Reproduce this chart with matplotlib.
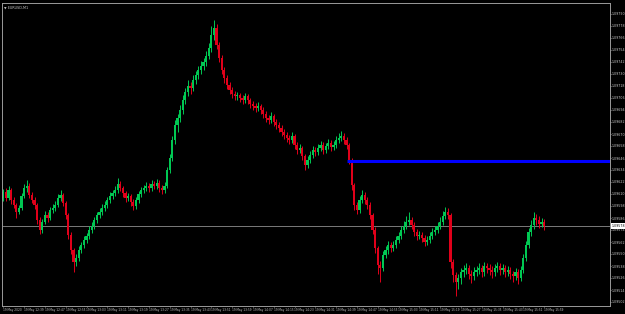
import matplotlib
matplotlib.use("Agg")
import matplotlib.pyplot as plt
import numpy as np

# EURUSD M1, 19 May 2020, prices stored as points above 1.09000
BASE = 1.09000
PT = 0.00001

opens = [606, 612, 606, 614, 604, 599, 592, 596, 608, 616,
         618, 609, 604, 599, 584, 574, 582, 589, 586, 594,
         596, 599, 606, 609, 601, 589, 569, 554, 542, 546,
         554, 559, 564, 568, 574, 578, 584, 589, 592, 596,
         599, 604, 608, 611, 614, 620, 616, 611, 606, 608,
         602, 598, 604, 610, 614, 616, 618, 616, 620, 618,
         621, 616, 614, 618, 634, 646, 664, 679, 686, 694,
         704, 712, 718, 716, 724, 729, 734, 738, 742, 748,
         756, 769, 776, 759, 746, 734, 726, 719, 714, 710,
         708, 709, 706, 704, 708, 704, 700, 698, 696, 698,
         694, 690, 686, 684, 688, 682, 679, 676, 672, 669,
         666, 664, 668, 659, 654, 656, 648, 639, 644, 649,
         654, 652, 656, 659, 654, 658, 661, 657, 659, 664,
         666, 668, 664, 659, 644, 619, 599, 594, 604, 609,
         604, 599, 589, 574, 556, 539, 536, 549, 554, 559,
         556, 559, 564, 568, 574, 578, 582, 584, 579, 572,
         568, 569, 566, 562, 564, 568, 572, 574, 578, 582,
         588, 592, 589, 542, 529, 522, 526, 532, 534, 536,
         530, 528, 532, 534, 536, 532, 538, 536, 534, 532,
         536, 538, 534, 536, 532, 534, 530, 528, 532, 526,
         534, 546, 559, 572, 579, 586, 584, 580, 582]
closes = [612, 606, 614, 604, 599, 592, 596, 608, 616, 618,
          609, 604, 599, 584, 574, 582, 589, 586, 594, 596,
          599, 606, 609, 601, 589, 569, 554, 542, 546, 554,
          559, 564, 568, 574, 578, 584, 589, 592, 596, 599,
          604, 608, 611, 614, 620, 616, 611, 606, 608, 602,
          598, 604, 610, 614, 616, 618, 616, 620, 618, 621,
          616, 614, 618, 634, 646, 664, 679, 686, 694, 704,
          712, 718, 716, 724, 729, 734, 738, 742, 748, 756,
          769, 776, 759, 746, 734, 726, 719, 714, 710, 708,
          709, 706, 704, 708, 704, 700, 698, 696, 698, 694,
          690, 686, 684, 688, 682, 679, 676, 672, 669, 666,
          664, 668, 659, 654, 656, 648, 639, 644, 649, 654,
          652, 656, 659, 654, 658, 661, 657, 659, 664, 666,
          668, 664, 659, 644, 619, 599, 594, 604, 609, 604,
          599, 589, 574, 556, 539, 536, 549, 554, 559, 556,
          559, 564, 568, 574, 578, 582, 584, 579, 572, 568,
          569, 566, 562, 564, 568, 572, 574, 578, 582, 588,
          592, 589, 542, 529, 522, 526, 532, 534, 536, 530,
          528, 532, 534, 536, 532, 538, 536, 534, 532, 536,
          538, 534, 536, 532, 534, 530, 528, 532, 526, 534,
          546, 559, 572, 579, 586, 584, 580, 582, 578]
highs = [615, 616, 618, 616, 607, 601, 599, 611, 620, 624,
         621, 612, 607, 601, 587, 585, 593, 592, 597, 600,
         603, 610, 614, 611, 603, 591, 572, 556, 550, 558,
         562, 568, 571, 578, 582, 587, 592, 596, 600, 603,
         607, 612, 614, 618, 626, 623, 618, 613, 611, 610,
         605, 607, 613, 617, 619, 622, 621, 624, 623, 625,
         624, 619, 622, 637, 650, 668, 684, 690, 699, 709,
         716, 724, 722, 729, 733, 738, 743, 746, 753, 761,
         778, 784, 780, 762, 749, 737, 729, 722, 717, 713,
         712, 711, 709, 711, 710, 706, 703, 701, 702, 700,
         697, 693, 689, 692, 690, 685, 682, 679, 675, 672,
         669, 672, 670, 662, 660, 658, 650, 648, 653, 658,
         657, 660, 663, 662, 661, 665, 664, 663, 668, 671,
         673, 671, 667, 661, 646, 621, 602, 608, 614, 612,
         607, 602, 591, 577, 558, 543, 553, 558, 563, 562,
         563, 568, 572, 578, 583, 588, 592, 587, 582, 575,
         573, 572, 569, 568, 572, 576, 578, 582, 587, 593,
         597, 596, 591, 545, 532, 530, 536, 539, 541, 539,
         534, 537, 538, 541, 539, 542, 541, 540, 538, 540,
         542, 541, 540, 539, 538, 537, 533, 536, 535, 538,
         550, 563, 576, 584, 592, 590, 588, 586, 585]
lows = [603, 603, 604, 600, 596, 586, 590, 594, 606, 612,
        606, 601, 595, 580, 570, 571, 580, 582, 584, 591,
        593, 597, 603, 598, 585, 565, 550, 532, 538, 543,
        551, 556, 561, 565, 571, 575, 581, 586, 589, 593,
        596, 601, 605, 608, 611, 613, 607, 602, 603, 598,
        594, 595, 601, 607, 611, 613, 612, 613, 615, 615,
        612, 610, 611, 616, 631, 643, 660, 672, 682, 690,
        700, 708, 710, 713, 720, 725, 730, 734, 738, 745,
        752, 764, 755, 742, 730, 721, 715, 710, 706, 704,
        704, 702, 700, 701, 700, 696, 694, 692, 693, 690,
        686, 682, 680, 681, 678, 675, 672, 668, 665, 662,
        660, 661, 655, 650, 651, 644, 634, 636, 641, 646,
        648, 649, 653, 650, 651, 655, 653, 654, 656, 661,
        663, 660, 655, 640, 614, 594, 590, 591, 601, 600,
        595, 585, 570, 551, 530, 522, 533, 546, 550, 552,
        553, 556, 561, 565, 571, 575, 579, 575, 568, 564,
        565, 562, 558, 559, 561, 565, 569, 571, 575, 579,
        585, 585, 536, 522, 508, 515, 520, 527, 530, 525,
        521, 524, 528, 530, 527, 528, 531, 529, 526, 528,
        532, 529, 530, 527, 528, 525, 522, 524, 520, 523,
        531, 543, 556, 568, 575, 579, 576, 577, 574]

start_label = "19 May 2020"
time_labels = ["12:39", "12:47", "12:55", "13:03", "13:11", "13:19", "13:27",
               "13:35", "13:43", "13:51", "13:59", "14:07", "14:15", "14:23",
               "14:31", "14:39", "14:47", "14:55", "15:03", "15:11", "15:19",
               "15:27", "15:35", "15:43", "15:51", "15:59"]
level_price = 1.09643   # blue horizontal level
level_from = 132        # bar where the level starts
bid = 1.09578

o = BASE + np.array(opens) * PT
c = BASE + np.array(closes) * PT
h = BASE + np.array(highs) * PT
l = BASE + np.array(lows) * PT
x = np.arange(len(o))

bg = "black"
fg = "#c8c8c8"
up_col = "#00c853"
dn_col = "#e0001a"
narrow = ["Liberation Sans Narrow", "DejaVu Sans"]

fig = plt.figure(figsize=(6.25, 3.14), dpi=100, facecolor=bg)
ax = fig.add_axes([0.0032, 1 - 306 / 314, 608 / 625, 303 / 314], facecolor=bg)

cols = np.where(c >= o, up_col, dn_col)
ax.vlines(x, l, h, colors=cols, linewidth=0.7)
body = np.abs(c - o)
body = np.maximum(body, 0.000006)
ax.bar(x, body, bottom=np.minimum(o, c), width=0.8, color=cols, linewidth=0)

ax.axhline(bid, color="#7a7a7a", linewidth=0.7, zorder=0)
ax.hlines(level_price, level_from, 240, colors="#0000ff", linewidth=2.2)

ax.set_xlim(-0.5, -0.5 + 608 / 2.6)
ax.set_ylim(1.09498, 1.09801)

yt = 1.09790 - 0.00012 * np.arange(25)
ax.yaxis.tick_right()
ax.set_yticks(yt)
ax.set_yticklabels(["%.5f" % v for v in yt], family=narrow, size=2.3)
xt = np.arange(0, 8 * (len(time_labels) + 1), 8)
ax.set_xticks(xt)
ax.set_xticklabels([start_label] + ["19 May " + t for t in time_labels],
                   ha="left", family=narrow, size=2.1)
ax.tick_params(colors=fg, length=1.0, width=0.5, pad=0.5)
for lab in ax.get_xticklabels() + ax.get_yticklabels():
    lab.set_color(fg)
for s in ax.spines.values():
    s.set_color("#9a9a9a")
    s.set_linewidth(0.7)

ax.text(1.002, bid, "%.5f" % bid, transform=ax.get_yaxis_transform(),
        color="black", va="center", ha="left", family=narrow, size=2.3,
        bbox=dict(boxstyle="square,pad=0.2", fc="white", ec="none"))
ax.text(0.004, 0.99, "\u25bc EURUSD,M1", transform=ax.transAxes,
        color=fg, va="top", ha="left", family=narrow, size=2.4)

fig.savefig("out.png", dpi=100, facecolor=bg)
